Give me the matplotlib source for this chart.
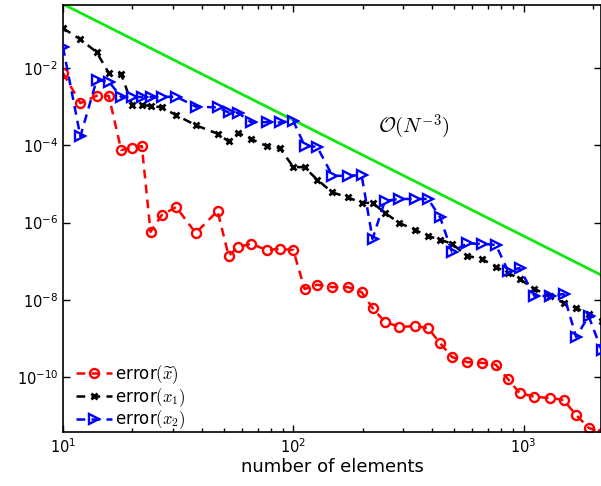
import matplotlib
matplotlib.use("Agg")
import matplotlib.pyplot as plt
from matplotlib.font_manager import FontProperties
import numpy as np

# number of elements (shared by all three error curves)
n_elements = [10, 11.9, 14, 15.8, 17.9, 20, 22, 24, 26.9, 31, 37.7, 46.9, 52.4, 57.7,
              65.7, 76.7, 87.4, 100, 112, 127, 148, 173, 198, 221, 250, 289, 338,
              385, 434, 489, 568, 660, 759, 856, 961, 1116, 1304, 1492, 1692, 1917, 2183]

# log10 of the errors
log_err_tilde = [-2.13, -2.91, -2.72, -2.72, -4.12, -4.07, -4.02, -6.24, -5.80, -5.60,
                 -6.27, -5.70, -6.86, -6.63, -6.55, -6.71, -6.68, -6.71, -7.72, -7.61,
                 -7.67, -7.67, -7.80, -8.21, -8.57, -8.70, -8.68, -8.73, -9.12, -9.48,
                 -9.61, -9.63, -9.68, -10.05, -10.41, -10.51, -10.54, -10.59, -10.98,
                 -11.31, -11.44]
log_err_x1 = [-0.97, -1.26, -1.59, -2.13, -2.16, -2.96, -2.96, -2.98, -3.02, -3.22,
              -3.48, -3.70, -3.90, -3.68, -3.84, -4.02, -4.07, -4.56, -4.57, -4.89,
              -5.22, -5.35, -5.49, -5.49, -5.75, -6.01, -6.19, -6.35, -6.44, -6.55,
              -6.86, -6.94, -7.15, -7.30, -7.46, -7.72, -7.90, -8.08, -8.21, -8.37,
              -8.55]
log_err_x2 = [-1.46, -3.77, -2.31, -2.35, -2.75, -2.75, -2.75, -2.75, -2.75, -2.74,
              -3.00, -3.02, -3.15, -3.16, -3.41, -3.40, -3.41, -3.37, -4.01, -4.04,
              -4.79, -4.79, -4.77, -6.42, -5.44, -5.39, -5.39, -5.39, -5.86, -6.76,
              -6.54, -6.55, -6.58, -7.25, -7.18, -7.90, -7.90, -7.85, -8.96, -8.42,
              -9.30]

# reference slope O(N^-3)
rate_const = 450.0
rate_order = -3

n = np.array(n_elements)
err_tilde = 10.0 ** np.array(log_err_tilde)
err_x1 = 10.0 ** np.array(log_err_x1)
err_x2 = 10.0 ** np.array(log_err_x2)
ref = rate_const * n ** rate_order

fig = plt.figure(figsize=(6.01, 4.86), dpi=100)
ax = fig.add_axes([0.1048, 0.1111, 0.8952, 0.8786])

ax.plot(n, ref, color="#10e810", lw=2.0, zorder=1)
l1, = ax.plot(n, err_tilde, "--o", color="red", lw=1.8, ms=6.5, mew=1.7,
              mfc="none", dashes=(3.5, 2.5), zorder=2)
l2, = ax.plot(n, err_x1, "--x", color="black", lw=1.8, ms=5.0, mew=2.0,
              dashes=(3.5, 2.5), zorder=3)
l3, = ax.plot(n, err_x2, "-->", color="blue", lw=1.8, ms=7.5, mew=1.7,
              mfc="none", dashes=(3.5, 2.5), zorder=4)

ax.set_xscale("log")
ax.set_yscale("log")
ax.set_xlim(10, 2170)
ax.set_ylim(10 ** -11.42, 10 ** -0.37)

ax.set_yticks([1e-2, 1e-4, 1e-6, 1e-8, 1e-10])
ax.yaxis.set_minor_locator(matplotlib.ticker.NullLocator())
ax.set_xticks([10, 100, 1000])
ax.set_xticklabels([r"$10^{1}$", r"$10^{2}$", r"$10^{3}$"])
ax.set_yticklabels([r"$10^{-2}$", r"$10^{-4}$", r"$10^{-6}$", r"$10^{-8}$", r"$10^{-10}$"])
ax.tick_params(which="both", direction="in", top=True, right=True, labelsize=10.5,
               width=1.0)
ax.tick_params(which="major", length=5)
ax.tick_params(which="minor", length=3)
for s in ax.spines.values():
    s.set_linewidth(1.2)

ax.set_xlabel("number of elements", fontsize=13, labelpad=2)

ax.text(0.585, 0.715, r"$\mathcal{O}(N^{-3})$", transform=ax.transAxes,
        fontsize=15, math_fontfamily="cm", va="center", ha="left")

leg_font = FontProperties(family="DejaVu Sans", size=12, math_fontfamily="cm")
ax.legend([l1, l2, l3],
          [r"error$(\widetilde{x})$", r"error$(x_1)$", r"error$(x_2)$"],
          loc="lower left", bbox_to_anchor=(0.005, -0.022), frameon=False,
          prop=leg_font, handlelength=2.2, handletextpad=0.15,
          labelspacing=0.0, borderpad=0.1, numpoints=1)

fig.savefig("out.png", dpi=100)
